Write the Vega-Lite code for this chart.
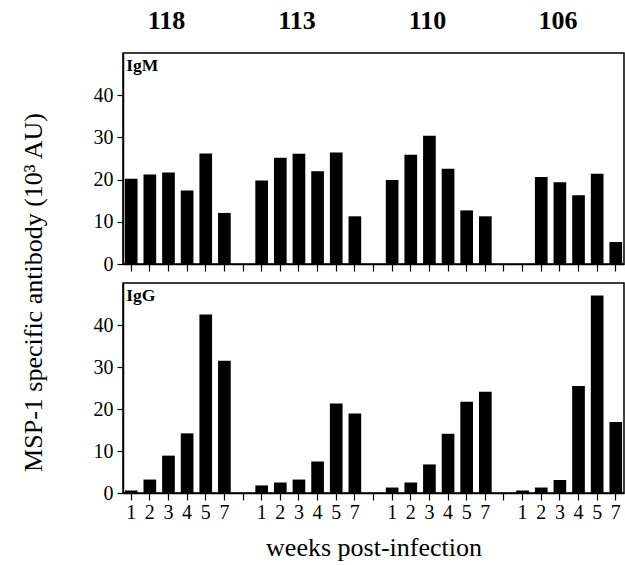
{
  "$schema": "https://vega.github.io/schema/vega-lite/v6.json",
  "padding": {"left": 19, "top": 7, "right": 2, "bottom": 2},
  "background": "white",
  "config": {
    "font": "Liberation Serif",
    "view": {"stroke": "black", "strokeWidth": 1.5},
    "concat": {"spacing": 19},
    "axis": {
      "domainColor": "black", "domainWidth": 1.5, "tickColor": "black", "tickWidth": 1.2,
      "labelColor": "black", "titleColor": "black", "grid": false,
      "labelFont": "Liberation Serif", "titleFont": "Liberation Serif",
      "labelFontSize": 20, "titleFontSize": 26, "titleFontWeight": "normal"
    }
  },
  "bounds": "flush",
  "datasets": {
    "bars": [
      {"panel": "IgM", "sample": "118", "week": "1", "key": "118-1", "value": 20.2},
      {"panel": "IgM", "sample": "118", "week": "2", "key": "118-2", "value": 21.2},
      {"panel": "IgM", "sample": "118", "week": "3", "key": "118-3", "value": 21.7},
      {"panel": "IgM", "sample": "118", "week": "4", "key": "118-4", "value": 17.4},
      {"panel": "IgM", "sample": "118", "week": "5", "key": "118-5", "value": 26.2},
      {"panel": "IgM", "sample": "118", "week": "7", "key": "118-7", "value": 12.1},
      {"panel": "IgM", "sample": "113", "week": "1", "key": "113-1", "value": 19.8},
      {"panel": "IgM", "sample": "113", "week": "2", "key": "113-2", "value": 25.2},
      {"panel": "IgM", "sample": "113", "week": "3", "key": "113-3", "value": 26.1},
      {"panel": "IgM", "sample": "113", "week": "4", "key": "113-4", "value": 22.0},
      {"panel": "IgM", "sample": "113", "week": "5", "key": "113-5", "value": 26.4},
      {"panel": "IgM", "sample": "113", "week": "7", "key": "113-7", "value": 11.3},
      {"panel": "IgM", "sample": "110", "week": "1", "key": "110-1", "value": 19.9},
      {"panel": "IgM", "sample": "110", "week": "2", "key": "110-2", "value": 25.9},
      {"panel": "IgM", "sample": "110", "week": "3", "key": "110-3", "value": 30.4},
      {"panel": "IgM", "sample": "110", "week": "4", "key": "110-4", "value": 22.6},
      {"panel": "IgM", "sample": "110", "week": "5", "key": "110-5", "value": 12.7},
      {"panel": "IgM", "sample": "110", "week": "7", "key": "110-7", "value": 11.3},
      {"panel": "IgM", "sample": "106", "week": "2", "key": "106-2", "value": 20.6},
      {"panel": "IgM", "sample": "106", "week": "3", "key": "106-3", "value": 19.4},
      {"panel": "IgM", "sample": "106", "week": "4", "key": "106-4", "value": 16.3},
      {"panel": "IgM", "sample": "106", "week": "5", "key": "106-5", "value": 21.4},
      {"panel": "IgM", "sample": "106", "week": "7", "key": "106-7", "value": 5.2},
      {"panel": "IgG", "sample": "118", "week": "1", "key": "118-1", "value": 0.6},
      {"panel": "IgG", "sample": "118", "week": "2", "key": "118-2", "value": 3.2},
      {"panel": "IgG", "sample": "118", "week": "3", "key": "118-3", "value": 8.9},
      {"panel": "IgG", "sample": "118", "week": "4", "key": "118-4", "value": 14.2},
      {"panel": "IgG", "sample": "118", "week": "5", "key": "118-5", "value": 42.5},
      {"panel": "IgG", "sample": "118", "week": "7", "key": "118-7", "value": 31.5},
      {"panel": "IgG", "sample": "113", "week": "1", "key": "113-1", "value": 1.8},
      {"panel": "IgG", "sample": "113", "week": "2", "key": "113-2", "value": 2.5},
      {"panel": "IgG", "sample": "113", "week": "3", "key": "113-3", "value": 3.2},
      {"panel": "IgG", "sample": "113", "week": "4", "key": "113-4", "value": 7.5},
      {"panel": "IgG", "sample": "113", "week": "5", "key": "113-5", "value": 21.3},
      {"panel": "IgG", "sample": "113", "week": "7", "key": "113-7", "value": 18.9},
      {"panel": "IgG", "sample": "110", "week": "1", "key": "110-1", "value": 1.3},
      {"panel": "IgG", "sample": "110", "week": "2", "key": "110-2", "value": 2.5},
      {"panel": "IgG", "sample": "110", "week": "3", "key": "110-3", "value": 6.8},
      {"panel": "IgG", "sample": "110", "week": "4", "key": "110-4", "value": 14.1},
      {"panel": "IgG", "sample": "110", "week": "5", "key": "110-5", "value": 21.7},
      {"panel": "IgG", "sample": "110", "week": "7", "key": "110-7", "value": 24.1},
      {"panel": "IgG", "sample": "106", "week": "1", "key": "106-1", "value": 0.6},
      {"panel": "IgG", "sample": "106", "week": "2", "key": "106-2", "value": 1.3},
      {"panel": "IgG", "sample": "106", "week": "3", "key": "106-3", "value": 3.1},
      {"panel": "IgG", "sample": "106", "week": "4", "key": "106-4", "value": 25.5},
      {"panel": "IgG", "sample": "106", "week": "5", "key": "106-5", "value": 47.0},
      {"panel": "IgG", "sample": "106", "week": "7", "key": "106-7", "value": 16.9}
    ],
    "headers": [
      {"sample": "118", "key": "118-3"},
      {"sample": "113", "key": "113-3"},
      {"sample": "110", "key": "110-3"},
      {"sample": "106", "key": "106-3"}
    ],
    "panels": [
      {"panel": "IgM", "key": "118-1"},
      {"panel": "IgG", "key": "118-1"}
    ]
  },
  "vconcat": [
    {
      "width": 501,
      "height": 211,
      "layer": [
        {
          "data": {"name": "bars"},
          "transform": [{"filter": "datum.panel == 'IgM'"}],
          "mark": {"type": "bar", "color": "black"},
          "encoding": {
            "x": {
              "field": "key", "type": "ordinal", "sort": null,
              "scale": {
                "domain": ["118-1","118-2","118-3","118-4","118-5","118-7","gap1","113-1","113-2","113-3","113-4","113-5","113-7","gap2","110-1","110-2","110-3","110-4","110-5","110-7","gap3","106-1","106-2","106-3","106-4","106-5","106-7"],
                "paddingInner": 0.32, "paddingOuter": 0.1
              },
              "axis": {"labels": false, "title": null, "tickSize": 7}
            },
            "y": {
              "field": "value", "type": "quantitative",
              "scale": {"domain": [0, 50], "nice": false},
              "axis": {"values": [0, 10, 20, 30, 40], "title": null, "tickSize": 6, "labelPadding": 4}
            }
          }
        },
        {
          "data": {"name": "headers"},
          "mark": {"type": "text", "fontSize": 26, "fontWeight": "bold", "color": "black", "baseline": "middle", "dx": -2},
          "encoding": {
            "x": {"field": "key", "type": "ordinal", "sort": null},
            "y": {"datum": 57.5, "type": "quantitative"},
            "text": {"field": "sample"}
          }
        },
        {
          "data": {"name": "panels"},
          "transform": [{"filter": "datum.panel == 'IgM'"}],
          "mark": {"type": "text", "fontSize": 17.5, "fontWeight": "bold", "color": "black", "align": "left", "baseline": "middle", "dx": -5},
          "encoding": {
            "x": {"field": "key", "type": "ordinal", "sort": null},
            "y": {"datum": 47, "type": "quantitative"},
            "text": {"field": "panel"}
          }
        }
      ]
    },
    {
      "width": 501,
      "height": 210,
      "layer": [
        {
          "data": {"name": "bars"},
          "transform": [{"filter": "datum.panel == 'IgG'"}],
          "mark": {"type": "bar", "color": "black"},
          "encoding": {
            "x": {
              "field": "key", "type": "ordinal", "sort": null,
              "scale": {
                "domain": ["118-1","118-2","118-3","118-4","118-5","118-7","gap1","113-1","113-2","113-3","113-4","113-5","113-7","gap2","110-1","110-2","110-3","110-4","110-5","110-7","gap3","106-1","106-2","106-3","106-4","106-5","106-7"],
                "paddingInner": 0.32, "paddingOuter": 0.1
              },
              "axis": {
                "title": "weeks post-infection", "titlePadding": 12,
                "labelExpr": "substring(datum.value, 4)",
                "labelAngle": 0, "tickSize": 7, "labelPadding": 2,
                "encode": {
                  "labels": {
                    "update": {
                      "dx": {"signal": "substring(datum.value, 4) == '3' ? -3 : substring(datum.value, 4) == '4' ? -8 : substring(datum.value, 4) == '5' ? -5 : substring(datum.value, 4) == '7' ? -4 : -1"}
                    }
                  }
                }
              }
            },
            "y": {
              "field": "value", "type": "quantitative",
              "scale": {"domain": [0, 50], "nice": false},
              "axis": {
                "values": [0, 10, 20, 30, 40], "tickSize": 6, "labelPadding": 4,
                "title": "MSP-1 specific antibody (10³ AU)", "titleY": 9, "titlePadding": 47
              }
            }
          }
        },
        {
          "data": {"name": "panels"},
          "transform": [{"filter": "datum.panel == 'IgG'"}],
          "mark": {"type": "text", "fontSize": 17.5, "fontWeight": "bold", "color": "black", "align": "left", "baseline": "middle", "dx": -5},
          "encoding": {
            "x": {"field": "key", "type": "ordinal", "sort": null},
            "y": {"datum": 47, "type": "quantitative"},
            "text": {"field": "panel"}
          }
        }
      ]
    }
  ]
}
